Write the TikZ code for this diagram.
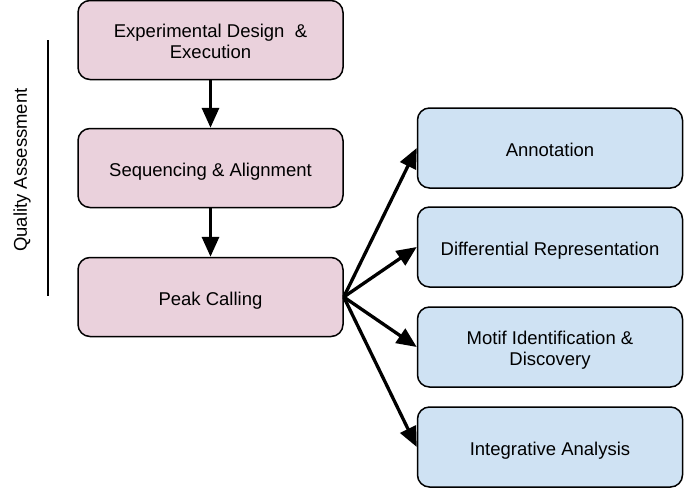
\documentclass[tikz,border=0pt]{standalone}
\usepackage{fontspec}
\setmainfont{Liberation Sans}
\usetikzlibrary{arrows.meta}
\definecolor{pinkfill}{HTML}{EAD1DC}
\definecolor{bluefill}{HTML}{CFE2F3}
\begin{document}
\begin{tikzpicture}[x=1pt,y=-1pt,
  box/.style={draw=black, line width=1.5pt, rounded corners=12pt, minimum width=265pt, align=center, inner sep=0pt,
    text height=16pt, text depth=0pt, font=\fontsize{18.5}{21}\selectfont},
  twoline/.style={text height=36pt, text depth=0pt},
  pinkbox/.style={box, fill=pinkfill, minimum height=79pt},
  bluebox/.style={box, fill=bluefill, minimum height=80pt},
  arr/.style={line width=3.3pt, -{Triangle[length=20pt,width=17pt]}}
]
\useasboundingbox (0,0) rectangle (685,493);
\node[pinkbox, twoline] (exp) at (210.5,40) {Experimental Design\ \ \&\\Execution};
\node[pinkbox] (seq) at (210.5,168) {Sequencing \& Alignment};
\node[pinkbox] (peak) at (210.5,297) {Peak Calling};
\node[bluebox] (ann) at (550,148) {Annotation};
\node[bluebox] (diff) at (550,247) {Differential Representation};
\node[bluebox, twoline] (motif) at (550,347) {Motif Identification \&\\Discovery};
\node[bluebox] (integ) at (550,447) {Integrative Analysis};
\draw[arr] (exp) -- (seq);
\draw[arr] (seq) -- (peak);
\draw[arr] (peak.east) -- (ann.west);
\draw[arr] (peak.east) -- (diff.west);
\draw[arr] (peak.east) -- (motif.west);
\draw[arr] (peak.east) -- (integ.west);
\coordinate (qtop) at (48,40);
\coordinate (qbot) at (48,296);
\draw[line width=1.5pt] (qtop) -- (qbot);
\node[rotate=90, font=\fontsize{18.5}{21}\selectfont, inner sep=0pt] (qa) at (22,170) {Quality Assessment};
\end{tikzpicture}
\end{document}
